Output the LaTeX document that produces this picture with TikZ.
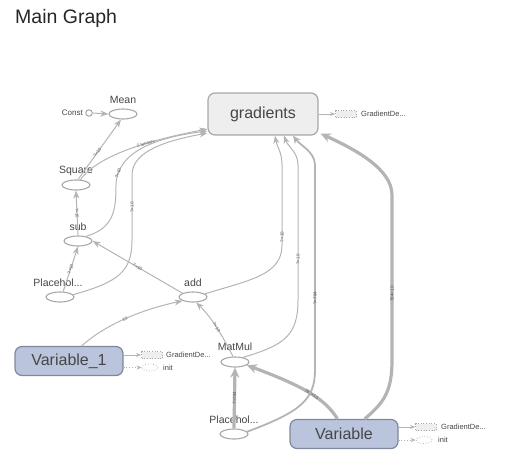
\documentclass[tikz,border=0pt]{standalone}
\usepackage{fontspec}
\setmainfont{Liberation Sans}
\usetikzlibrary{arrows.meta,shapes.geometric}
\definecolor{edgec}{RGB}{180,180,180}
\definecolor{nodeline}{RGB}{168,168,168}
\definecolor{gradfill}{RGB}{238,238,238}
\definecolor{varfill}{RGB}{186,196,220}
\definecolor{varline}{RGB}{128,136,156}
\definecolor{txt}{RGB}{70,70,70}
\definecolor{lbl}{RGB}{90,90,90}
\begin{document}
\begin{tikzpicture}[x=1pt,y=-1pt,
  op/.style={ellipse,draw=nodeline,line width=1.1pt,fill=white,minimum width=28pt,minimum height=10pt,inner sep=0pt},
  oplbl/.style={font=\fontsize{10.5}{12}\selectfont,text=txt,inner sep=0pt},
  bigbox/.style={rectangle,rounded corners=7pt,line width=1.2pt,inner sep=0pt,font=\fontsize{16}{19}\selectfont,text=txt},
  gbox/.style={bigbox,draw=nodeline,fill=gradfill,minimum width=110pt,minimum height=42pt},
  vbox/.style={bigbox,draw=varline,fill=varfill,minimum width=108pt,minimum height=29pt},
  thinedge/.style={draw=edgec,line width=1pt,-{Stealth[length=8pt,width=6pt,inset=2.5pt]}},
  midedge/.style={draw=edgec,line width=1.8pt,-{Stealth[length=8pt,width=7pt,inset=2.5pt]}},
  fatedge/.style={draw=edgec,line width=3.2pt,-{Stealth[length=10pt,width=9pt,inset=3pt]}},
  elbl/.style={sloped,font=\fontsize{4.5}{5}\selectfont,text=lbl,inner sep=0.5pt},
  smalltxt/.style={font=\fontsize{7.5}{9}\selectfont,text=txt,inner sep=0pt,anchor=west},
  auxbox/.style={rectangle,draw=nodeline,dotted,fill=gradfill,minimum width=21pt,minimum height=7pt,inner sep=0pt,line width=0.7pt},
  auxell/.style={ellipse,draw=nodeline,dotted,minimum width=16pt,minimum height=7pt,inner sep=0pt,line width=0.7pt},
  auxarrow/.style={draw=edgec,line width=0.8pt,-{Stealth[length=5pt,width=4pt,inset=1.5pt]}},
  auxdot/.style={auxarrow,dotted}
]
\useasboundingbox (0,0) rectangle (505,458);

% title
\node[anchor=west,font=\fontsize{19.5}{23}\selectfont,text=black!85,inner sep=0pt] (title) at (15,18) {Main Graph};

% main nodes
\node[gbox] (grad) at (263,114) {gradients};
\node[vbox] (var1) at (69,361) {Variable\_1};
\node[vbox] (var) at (344,434) {Variable};

\node[op] (mean) at (123,114) {};
\node[oplbl] (meanl) at (123,100) {Mean};
\node[circle,draw=nodeline,line width=1pt,fill=white,minimum size=6.5pt,inner sep=0pt] (const) at (89,113) {};
\node[font=\fontsize{8}{9}\selectfont,text=txt,inner sep=0pt,anchor=east] (constl) at (83,113) {Const};
\node[op] (square) at (76,185) {};
\node[oplbl] (squarel) at (76,171) {Square};
\node[op] (sub) at (78,241) {};
\node[oplbl] (subl) at (78,227) {sub};
\node[op] (ph1) at (60,297) {};
\node[oplbl] (ph1l) at (58,283) {Placehol...};
\node[op] (add) at (193,297) {};
\node[oplbl] (addl) at (193,283) {add};
\node[op] (matmul) at (235,362) {};
\node[oplbl] (matmull) at (235,347) {MatMul};
\node[op] (ph2) at (234,434) {};
\node[oplbl] (ph2l) at (234,420) {Placehol...};

% auxiliary attachments
\node[auxbox] (gradaux) at (346,114) {};
\node[smalltxt] (gradauxl) at (361,114) {GradientDe...};
\draw[auxarrow] (grad.east) -- (gradaux.west);

\node[auxbox] (var1aux) at (152,355) {};
\node[smalltxt] (var1auxl) at (166,355) {GradientDe...};
\node[auxell] (var1init) at (150,367.5) {};
\node[smalltxt] (var1initl) at (163,367.5) {init};
\draw[auxarrow] (var1.east |- var1aux) -- (var1aux.west);
\draw[auxdot] (var1.east |- var1init) -- (var1init.west);

\node[auxbox] (varaux) at (426,427) {};
\node[smalltxt] (varauxl) at (441,427) {GradientDe...};
\node[auxell] (varinit) at (424,440) {};
\node[smalltxt] (varinitl) at (438,440) {init};
\draw[auxarrow] (var.east |- varaux) -- (varaux.west);
\draw[auxdot] (var.east |- varinit) -- (varinit.west);

% edges
\draw[thinedge] (const.east) -- (mean.west);
\draw[thinedge] (square.70) -- node[elbl,pos=0.45] {?×10} (mean.250);
\draw[thinedge] (sub.north) -- node[elbl] {?×10} (square.south);
\draw[thinedge] (ph1.60) -- node[elbl] {?×10} (sub.south);
\draw[thinedge] (add.160) -- node[elbl] {?×10} (sub.east);
\draw[thinedge] (var1.50) .. controls (105,325) and (140,310) .. node[elbl] {10} (add.200);
\draw[thinedge] (matmul.110) .. controls (222,335) and (212,318) .. node[elbl] {?×10} (add.-60);
\draw[fatedge] (ph2.north) -- node[elbl] {?×784} (matmul.south);
\draw[fatedge] (var.north west) ++(48,0) .. controls (325,398) and (300,385) .. node[elbl,pos=0.45] {784×10} (matmul.-15);

% to gradients
\draw[thinedge] (square.50) .. controls (98,155) and (150,140) .. node[elbl,pos=0.62] {2 tensors} ([yshift=-15pt]grad.west);
\draw[thinedge] (sub.30) .. controls (114,228) and (116,210) .. (116,185) .. controls (117,150) and (160,137) .. node[elbl,pos=0.12] {?×10} ([yshift=-17pt]grad.west);
\draw[thinedge] (ph1.10) .. controls (118,282) and (132,272) .. (132,240) -- node[elbl,pos=0.5] {?×10} (132,175) .. controls (132,150) and (170,140) .. ([yshift=-19pt]grad.west);
\draw[thinedge] (add.15) .. controls (250,280) and (282,275) .. (282,245) -- node[elbl,pos=0.1] {?×10} (282,165) .. controls (282,152) and (277,147) .. ([xshift=12pt]grad.south);
\draw[thinedge] (matmul.30) .. controls (285,345) and (298,335) .. (298,300) -- node[elbl,pos=0.3] {?×10} (298,165) .. controls (298,152) and (288,147) .. ([xshift=21pt]grad.south);
\draw[midedge] (ph2.10) .. controls (300,412) and (315,400) .. (315,370) -- node[elbl,pos=0.35] {?×784} (315,165) .. controls (315,152) and (300,145) .. ([xshift=30pt]grad.south);
\draw[fatedge] (var.north east) ++(-34,0) .. controls (385,402) and (392,390) .. (392,360) -- node[elbl,pos=0.4] {784×10} (392,195) .. controls (392,168) and (352,148) .. ([xshift=2pt,yshift=2pt]grad.south east);
\end{tikzpicture}
\end{document}
